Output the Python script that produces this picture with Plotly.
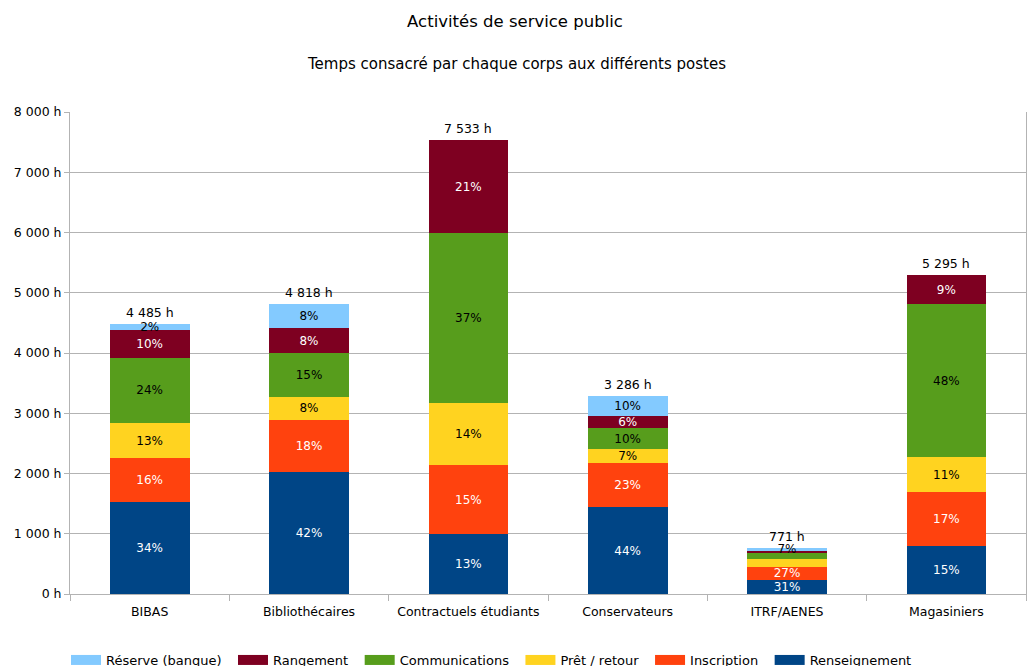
import plotly.graph_objects as go

# Hours spent by each staff group on each public-service post
categories = ["BIBAS", "Bibliothécaires", "Contractuels étudiants",
              "Conservateurs", "ITRF/AENES", "Magasiniers"]

renseignement = [1530, 2020, 1000, 1440, 240, 800]
inscription = [725, 870, 1135, 740, 208, 890]
pret_retour = [585, 380, 1040, 230, 130, 582]
communications = [1080, 735, 2810, 340, 100, 2540]
rangement = [460, 405, 1548, 200, 40, 483]
reserve = [105, 408, 0, 336, 53, 0]

series = [
    ("Renseignement", renseignement, "#004586", "white"),
    ("Inscription", inscription, "#ff420e", "white"),
    ("Prêt / retour", pret_retour, "#ffd320", "black"),
    ("Communications", communications, "#579d1c", "black"),
    ("Rangement", rangement, "#7e0021", "white"),
    ("Réserve (banque)", reserve, "#83caff", "black"),
]

# Percentage labels left out where the segments are too thin to hold them
hidden_labels = {("ITRF/AENES", "Prêt / retour"),
                 ("ITRF/AENES", "Communications"),
                 ("ITRF/AENES", "Rangement")}

y_ticks = [0, 1000, 2000, 3000, 4000, 5000, 6000, 7000, 8000]

FONT = "DejaVu Sans, sans-serif"


def fmt_hours(v):
    return f"{v:,}".replace(",", " ") + " h"


totals = [sum(vals) for vals in zip(*[s[1] for s in series])]

fig = go.Figure()
for name, vals, color, txtcolor in series:
    labels = []
    for cat, v, tot in zip(categories, vals, totals):
        if v == 0 or (cat, name) in hidden_labels:
            labels.append("")
        else:
            labels.append(f"{round(v / tot * 100)}%")
    fig.add_trace(go.Bar(
        name=name, x=categories, y=vals, marker=dict(color=color, line_width=0),
        text=labels, textposition="inside", insidetextanchor="middle",
        textangle=0, textfont=dict(color=txtcolor, size=12, family=FONT),
        hoverinfo="skip", showlegend=False,
    ))

# Legend entries drawn as wide colour swatches (en space widens the gap between entries)
for name, vals, color, txtcolor in series:
    fig.add_trace(go.Scatter(
        name=name + "\u2002", x=[None], y=[None], mode="lines",
        line=dict(color=color, width=10), hoverinfo="skip",
    ))

# Total hours above each stack
total_notes = [dict(x=cat, y=tot, text=fmt_hours(tot), showarrow=False,
                    xref="x", yref="y", yanchor="bottom", yshift=2,
                    font=dict(size=12.5, color="black"))
               for cat, tot in zip(categories, totals)]

fig.update_layout(
    barmode="stack", bargap=0.5,
    width=1030, height=666,
    margin=dict(l=70, r=4, t=112, b=72),
    paper_bgcolor="white", plot_bgcolor="white",
    font=dict(family=FONT, size=12, color="black"),
    title=dict(text="Activités de service public", x=0.5, xanchor="center",
               y=1 - 21 / 666, yanchor="middle", font=dict(size=16.5)),
    annotations=[dict(text="Temps consacré par chaque corps aux différents postes",
                      xref="paper", yref="paper", x=(516 - 70) / 956,
                      y=1 + (112 - 64) / 482,
                      xanchor="center", yanchor="middle", showarrow=False,
                      font=dict(size=15))] + total_notes,
    uniformtext=dict(minsize=12, mode="show"),
    legend=dict(orientation="h", traceorder="reversed", x=66 / 1030, xanchor="left",
                xref="container", yref="container", y=6 / 666, yanchor="middle",
                font=dict(size=13), itemwidth=30, bgcolor="rgba(0,0,0,0)"),
    showlegend=True,
)

fig.update_xaxes(
    showline=True, linecolor="#b3b3b3", linewidth=1,
    ticks="outside", tickson="boundaries", ticklen=6, tickcolor="#b3b3b3",
    tickfont=dict(size=12.5), showgrid=False, ticklabelstandoff=6,
)
fig.update_yaxes(
    range=[0, 8000], tickvals=y_ticks, ticktext=[fmt_hours(v) for v in y_ticks],
    showgrid=True, gridcolor="#b3b3b3", gridwidth=1,
    showline=True, linecolor="#b3b3b3", linewidth=1, mirror=True,
    ticks="outside", ticklen=5, tickcolor="#b3b3b3", zeroline=False,
    tickfont=dict(size=12.5),
)

fig.write_html("out.html")
